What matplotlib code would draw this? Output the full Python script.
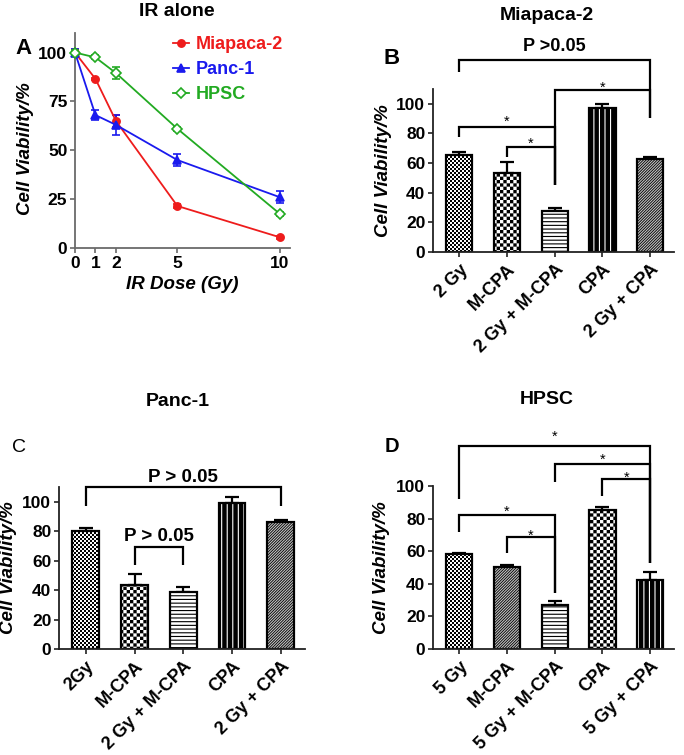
import warnings
import numpy as np
import matplotlib
matplotlib.use('Agg')
import matplotlib.pyplot as plt
import matplotlib.hatch as mhatch
from matplotlib.path import Path
from matplotlib.lines import Line2D

warnings.filterwarnings('ignore')

# ---------------- data ----------------
ir_doses = [0, 1, 2, 5, 10]
mia_ir = [100, 86.5, 65, 21.5, 5.5]
mia_ir_err = [2, 0.5, 3, 0.8, 0.8]
panc_ir = [100, 68, 63, 45, 26]
panc_ir_err = [2, 2.5, 5, 3, 3]
hpsc_ir = [100, 97.5, 89.5, 61, 17.5]
hpsc_ir_err = [1.5, 1, 3, 1, 1]
ir_ticks_y = [0, 25, 50, 75, 100]

b_labels = ['2 Gy', 'M-CPA', '2 Gy + M-CPA', 'CPA', '2 Gy + CPA']
b_values = [65.5, 53.5, 27.5, 97.5, 62.5]
b_errors = [2.3, 7.4, 2.0, 2.5, 1.8]

c_labels = ['2Gy', 'M-CPA', '2 Gy + M-CPA', 'CPA', '2 Gy + CPA']
c_values = [80.3, 43.3, 38.6, 99.0, 86.0]
c_errors = [1.9, 7.4, 3.6, 3.9, 1.9]

d_labels = ['5 Gy', 'M-CPA', '5 Gy + M-CPA', 'CPA', '5 Gy + CPA']
d_values = [58.0, 50.5, 27.0, 85.5, 42.5]
d_errors = [1.0, 1.0, 2.2, 1.6, 4.5]
bar_ticks_y = [0, 20, 40, 60, 80, 100]

# significance brackets: (left bar, right bar, bracket y, left end, right end, label, label y)
b_brackets = [(0, 4, 129.7, 121.6, 90.5, 'P >0.05', 138.5),
              (2, 4, 109.5, 45.3, 90.5, '*', 114.0),
              (0, 2, 84.5, 77.7, 45.3, '*', 90.5),
              (1, 2, 71.0, 64.0, 45.3, '*', 75.7)]
c_brackets = [(0, 4, 110.3, 97.0, 97.0, 'P > 0.05', 116.5),
              (1, 2, 69.0, 57.0, 57.0, 'P > 0.05', 76.5)]
d_brackets = [(0, 4, 124.7, 92.0, 53.0, '*', 133.0),
              (2, 4, 113.6, 102.5, 53.0, '*', 118.5),
              (3, 4, 104.3, 94.0, 53.0, '*', 107.5),
              (0, 2, 82.0, 71.6, 34.6, '*', 87.0),
              (1, 2, 68.5, 59.0, 34.6, '*', 72.0)]

# ---------------- custom fill patterns ----------------
_SQ = np.array([[0, 0], [1, 0], [1, 1], [0, 1], [0, 0]], float)
_CD = [Path.MOVETO, Path.LINETO, Path.LINETO, Path.LINETO, Path.CLOSEPOLY]


class _Checker(mhatch.HatchPatternBase):
    def __init__(self, hatch, density):
        self.n = hatch.count('c') * 10
        self.cells = [(i, j) for i in range(self.n) for j in range(self.n)
                      if (i + j) % 2 == 0]
        self.num_vertices = len(self.cells) * 5

    def set_vertices_and_codes(self, vertices, codes):
        s = 1.0 / self.n
        for k, (i, j) in enumerate(self.cells):
            vertices[5 * k:5 * k + 5] = _SQ * s + [j * s, i * s]
            codes[5 * k:5 * k + 5] = _CD


class _HStripes(mhatch.HatchPatternBase):
    def __init__(self, hatch, density):
        self.n = hatch.count('h') * 9
        self.t = 0.30
        self.num_vertices = self.n * 5

    def set_vertices_and_codes(self, vertices, codes):
        s = 1.0 / self.n
        for i in range(self.n):
            y0 = i * s
            vertices[5 * i:5 * i + 5] = [[0, y0], [1, y0], [1, y0 + self.t * s],
                                         [0, y0 + self.t * s], [0, y0]]
            codes[5 * i:5 * i + 5] = _CD


class _VStripes(mhatch.HatchPatternBase):
    def __init__(self, hatch, density):
        self.n = hatch.count('v') * 6
        self.t = 0.80
        self.num_vertices = self.n * 5

    def set_vertices_and_codes(self, vertices, codes):
        s = 1.0 / self.n
        for i in range(self.n):
            x0 = i * s
            vertices[5 * i:5 * i + 5] = [[x0, 0], [x0 + self.t * s, 0],
                                         [x0 + self.t * s, 1], [x0, 1], [x0, 0]]
            codes[5 * i:5 * i + 5] = _CD


class _DStripes(mhatch.HatchPatternBase):
    def __init__(self, hatch, density):
        self.n = hatch.count('d') * 12
        self.t = 0.45
        self.num_vertices = (2 * self.n + 1) * 5 if self.n else 0

    def set_vertices_and_codes(self, vertices, codes):
        s = 1.0 / self.n
        w = self.t * s
        for k, i in enumerate(range(-self.n, self.n + 1)):
            x0 = i * s
            vertices[5 * k:5 * k + 5] = [[x0, 0], [x0 + w, 0], [x0 + 1 + w, 1],
                                         [x0 + 1, 1], [x0, 0]]
            codes[5 * k:5 * k + 5] = _CD


mhatch._hatch_types.extend([_Checker, _HStripes, _VStripes, _DStripes])

PATTERNS = {
    'fine': ('white', 'ccccc'),
    'checker': ('white', 'ccc'),
    'hlines': ('white', 'hhh'),
    'vlines': ('white', 'vvv'),
    'diag': ('#c8c8c8', 'ddd'),
}
b_patterns = ['fine', 'checker', 'hlines', 'vlines', 'diag']
c_patterns = ['fine', 'checker', 'hlines', 'vlines', 'diag']
d_patterns = ['fine', 'diag', 'hlines', 'checker', 'vlines']

# ---------------- style ----------------
plt.rcParams['font.family'] = ['Liberation Sans', 'DejaVu Sans']
plt.rcParams['hatch.linewidth'] = 0.01
plt.rcParams['hatch.color'] = 'black'

W, H = 684, 755
fig = plt.figure(figsize=(W / 100, H / 100), dpi=100)


def fx(x):
    return x / W


def fy(y):
    return 1 - y / H


def axes_px(left, top, right, bottom):
    return fig.add_axes([fx(left), fy(bottom), (right - left) / W, (bottom - top) / H])


YTICK_FS = 12.5
XTICK_FS = 13
LABEL_FS = 13.5
TITLE_FS = 14

# ---------------- Panel A ----------------
axA = axes_px(75, 33, 290, 248)
gray = '#6a6a6a'
series = [(mia_ir, mia_ir_err, '#ee1c1c', 'o', 'Miapaca-2', None),
          (panc_ir, panc_ir_err, '#1a1aee', '^', 'Panc-1', None),
          (hpsc_ir, hpsc_ir_err, '#22aa22', 'D', 'HPSC', 'white')]
handles = []
for vals, errs, col, mk, lab, mfc in series:
    ms = 4.6 if mk == 'D' else 5.2
    axA.errorbar(ir_doses, vals, yerr=errs, color=col, marker=mk, ms=ms,
                 mfc=mfc if mfc else col, mec=col, mew=1.2, lw=1.3,
                 elinewidth=1.2, capsize=2.8, capthick=1.2, clip_on=False, zorder=3)
    handles.append(Line2D([], [], color=col, marker=mk, ms=ms,
                          mfc=mfc if mfc else col, mec=col, mew=1.2, lw=1.3, label=lab))
axA.set_xlim(0, 10.5)
axA.set_ylim(0, 110)
axA.set_xticks(ir_doses)
axA.set_yticks(ir_ticks_y)
for s in ['top', 'right']:
    axA.spines[s].set_visible(False)
for s in ['left', 'bottom']:
    axA.spines[s].set_color(gray)
    axA.spines[s].set_linewidth(1.3)
axA.tick_params(direction='out', length=3.5, width=1.2, color=gray,
                labelsize=YTICK_FS, pad=2)
for t in axA.get_xticklabels() + axA.get_yticklabels():
    t.set_fontweight('bold')
axA.set_xlabel('IR Dose (Gy)', fontsize=LABEL_FS, fontweight='bold', style='italic',
               labelpad=4)
axA.set_ylabel('Cell Viability/%', fontsize=LABEL_FS, fontweight='bold', style='italic')
axA.yaxis.set_label_coords(-0.19, 0.46)
leg = axA.legend(handles=handles, loc='upper left', bbox_to_anchor=(fx(173), fy(36)),
                 bbox_transform=fig.transFigure, frameon=False, handlelength=0.9,
                 handletextpad=0.35, labelspacing=0.45, borderpad=0, borderaxespad=0,
                 prop={'weight': 'bold', 'size': 13}, labelcolor='linecolor')


# ---------------- bar panels ----------------
def bar_panel(ax, labels, values, errors, patterns, ylim, brackets, text_fs,
              ylabel_x):
    x = np.arange(len(values))
    ax.errorbar(x, values, yerr=[np.zeros(len(errors)), errors], fmt='none',
                ecolor='black', elinewidth=1.6, capsize=5, capthick=1.6, zorder=1)
    for xi, v, p in zip(x, values, patterns):
        fc, h = PATTERNS[p]
        ax.bar(xi, v, width=0.55, color=fc, edgecolor='black', linewidth=1.6,
               hatch=h, zorder=2)
    ax.set_xlim(-0.55, 4.5)
    ax.set_ylim(*ylim)
    ax.set_yticks(bar_ticks_y)
    ax.set_xticks(x)
    ax.set_xticklabels(labels, rotation=45, ha='right', rotation_mode='anchor')
    for s in ['top', 'right']:
        ax.spines[s].set_visible(False)
    for s in ['left', 'bottom']:
        ax.spines[s].set_color('#222222')
        ax.spines[s].set_linewidth(1.3)
    ax.tick_params(direction='out', length=3.5, width=1.2, color='#222222',
                   labelsize=YTICK_FS, pad=2)
    ax.tick_params(axis='x', pad=3, labelsize=XTICK_FS)
    for t in ax.get_xticklabels() + ax.get_yticklabels():
        t.set_fontweight('bold')
    ax.set_ylabel('Cell Viability/%', fontsize=LABEL_FS, fontweight='bold',
                  style='italic')
    ax.yaxis.set_label_coords(ylabel_x, 0.5)
    for (l, r, y, yl, yr, lab, ty) in brackets:
        ax.plot([l, l, r, r], [yl, y, y, yr], color='black', lw=1.6, clip_on=False,
                solid_joinstyle='miter', solid_capstyle='butt', zorder=4)
        if lab == '*':
            ax.annotate(lab, xy=((l + r) / 2, ty), xytext=(0, -6),
                        textcoords='offset points', ha='center', va='baseline',
                        fontsize=10.5, annotation_clip=False)
        else:
            ax.text((l + r) / 2, ty, lab, ha='center', va='center',
                    fontsize=text_fs, fontweight='bold', clip_on=False)


axB = axes_px(433, 89, 674, 252)
bar_panel(axB, b_labels, b_values, b_errors, b_patterns, (0, 110), b_brackets, 13,
          -0.17)
axC = axes_px(59, 487, 305, 649)
bar_panel(axC, c_labels, c_values, c_errors, c_patterns, (0, 110), c_brackets, 13.5,
          -0.17)
axD = axes_px(433, 486, 674, 649)
bar_panel(axD, d_labels, d_values, d_errors, d_patterns, (0, 100), d_brackets, 13,
          -0.178)

# ---------------- titles & panel letters ----------------
fig.text(fx(177), fy(11), 'IR alone', ha='center', va='center', fontsize=TITLE_FS,
         fontweight='bold')
fig.text(fx(547), fy(15), 'Miapaca-2', ha='center', va='center', fontsize=TITLE_FS,
         fontweight='bold')
fig.text(fx(178), fy(401), 'Panc-1', ha='center', va='center', fontsize=TITLE_FS,
         fontweight='bold')
fig.text(fx(547), fy(399), 'HPSC', ha='center', va='center', fontsize=TITLE_FS,
         fontweight='bold')
fig.text(fx(23), fy(48), 'A', ha='center', va='center', fontsize=16, fontweight='bold')
fig.text(fx(392), fy(58), 'B', ha='center', va='center', fontsize=16, fontweight='bold')
fig.text(fx(19), fy(447), 'C', ha='center', va='center', fontsize=14)
fig.text(fx(392), fy(447), 'D', ha='center', va='center', fontsize=14.5,
         fontweight='bold')

fig.savefig('out.png', dpi=100)
